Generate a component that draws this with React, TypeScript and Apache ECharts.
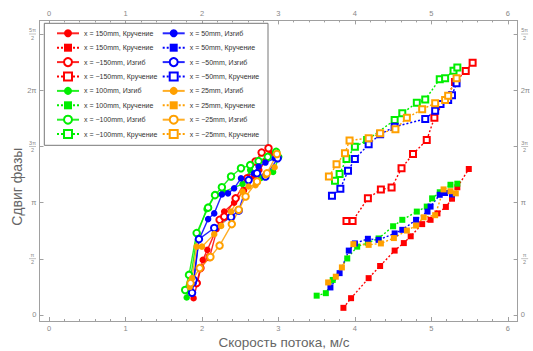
import React, { useEffect, useRef } from 'react';
import * as echarts from 'echarts';

const PI = Math.PI;

// Axis ticks
const xTickValues = [0, 1, 2, 3, 4, 5, 6];
const xMinorTickValues = [
  0.2, 0.4, 0.6, 0.8, 1.2, 1.4, 1.6, 1.8, 2.2, 2.4, 2.6, 2.8, 3.2, 3.4, 3.6, 3.8,
  4.2, 4.4, 4.6, 4.8, 5.2, 5.4, 5.6, 5.8,
];
const yTickValues = [0, PI / 2, PI, (3 * PI) / 2, 2 * PI, (5 * PI) / 2];
const yTickLabels = ['0', 'π/2', 'π', '3π/2', '2π', '5π/2'];

// Series (x: flow velocity m/s, y: phase shift rad)
const bend150 = [[1.89, 0.47], [1.94, 0.9], [2.01, 1.54], [2.07, 1.82], [2.19, 2.4], [2.29, 2.89], [2.42, 3.14], [2.55, 3.49], [2.68, 3.87], [2.75, 4.05], [2.83, 4.31], [2.9, 4.52]];
const tors150 = [[3.85, 0.2], [3.95, 0.47], [4.18, 1.03], [4.33, 1.37], [4.52, 1.8], [4.64, 2.01], [4.73, 2.2], [4.88, 2.54], [4.99, 2.66], [5.08, 2.84], [5.19, 3.02], [5.27, 3.25], [5.34, 3.57], [5.49, 4.08]];
const bendM150 = [[1.93, 0.89], [1.98, 1.31], [2.1, 1.62], [2.23, 2.66], [2.29, 2.75], [2.44, 3.26], [2.59, 3.82], [2.7, 4.29], [2.78, 4.54], [2.87, 4.66]];
const torsM150 = [[3.89, 2.63], [3.97, 2.63], [4.17, 3.26], [4.34, 3.51], [4.48, 3.56], [4.61, 4.1], [4.76, 4.5], [4.94, 4.89], [5.04, 5.51], [5.31, 6.51], [5.45, 6.82], [5.54, 7.05]];
const bend100 = [[1.8, 0.49], [1.84, 0.89], [1.94, 2.26], [2.06, 2.96], [2.17, 3.37], [2.28, 3.44], [2.53, 3.66], [2.63, 4.05], [2.77, 3.83], [2.93, 4.0], [3.01, 4.42]];
const tors100 = [[3.5, 0.54], [3.62, 0.61], [3.71, 0.98], [3.9, 1.58], [4.03, 1.91], [4.17, 2.02], [4.31, 2.14], [4.5, 2.48], [4.62, 2.66], [4.81, 2.89], [4.94, 3.03], [5.01, 3.26], [5.11, 3.43], [5.25, 3.64], [5.34, 3.67]];
const bendM100 = [[1.78, 0.7], [1.83, 1.12], [1.93, 2.29], [2.08, 3.0], [2.17, 3.35], [2.26, 3.57], [2.38, 3.87], [2.51, 4.1], [2.63, 4.19], [2.74, 4.3], [2.86, 4.42], [2.97, 4.56]];
const torsM100 = [[3.74, 3.75], [3.8, 3.94], [3.89, 4.36], [4.0, 4.7], [4.16, 4.89], [4.52, 5.45], [4.62, 5.64], [4.81, 5.93], [4.92, 6.02], [5.11, 6.59], [5.18, 6.62], [5.29, 6.83], [5.34, 6.92]];
const bend50 = [[1.87, 0.61], [1.89, 0.89], [1.96, 2.1], [2.08, 2.68], [2.16, 2.84], [2.26, 3.37], [2.34, 3.4], [2.42, 3.54], [2.51, 3.82], [2.68, 3.96], [2.74, 4.15], [2.83, 4.26], [2.95, 4.38]];
const tors50 = [[3.68, 0.77], [3.8, 1.17], [3.92, 1.8], [4.0, 2.0], [4.17, 2.13], [4.31, 2.1], [4.52, 2.28], [4.62, 2.38], [4.8, 2.66], [4.95, 2.89], [4.99, 3.03], [5.11, 3.36], [5.18, 3.41], [5.27, 3.37]];
const bendM50 = [[1.87, 0.62], [1.89, 0.98], [1.96, 2.12], [2.16, 2.43], [2.38, 2.74], [2.48, 2.92], [2.61, 3.77], [2.72, 3.96], [2.83, 3.87], [2.99, 4.38]];
const torsM50 = [[3.7, 3.33], [3.81, 3.53], [3.91, 4.03], [4.0, 4.36], [4.18, 4.77], [4.33, 5.05], [4.52, 5.26], [4.92, 5.48], [5.05, 5.71], [5.12, 5.9], [5.22, 6.01], [5.27, 6.14], [5.33, 6.48]];
const bend25 = [[1.84, 0.78], [1.87, 1.03], [1.93, 1.91], [2.0, 1.91], [2.16, 2.26], [2.25, 2.49], [2.38, 2.89], [2.53, 3.45], [2.61, 3.59], [2.7, 3.63], [2.83, 3.91], [2.95, 4.13]];
const tors25 = [[3.65, 0.91], [3.75, 1.07], [3.83, 1.33], [3.98, 1.98], [4.18, 1.96], [4.34, 2.0], [4.51, 2.15], [4.68, 2.36], [4.8, 2.5], [4.9, 2.73], [5.05, 2.79], [5.16, 3.51], [5.25, 3.46], [5.32, 3.4]];
const bendM25 = [[1.85, 0.89], [1.97, 1.31], [2.11, 1.62], [2.23, 1.94], [2.39, 2.54], [2.48, 2.94], [2.57, 3.31], [2.72, 3.73], [2.85, 3.96], [2.98, 4.5]];
const torsM25 = [[3.66, 3.87], [3.76, 4.21], [3.87, 4.52], [3.93, 4.88], [4.18, 4.94], [4.33, 5.08], [4.53, 5.19], [4.68, 5.51], [4.88, 5.75], [5.05, 5.92], [5.18, 6.01], [5.22, 6.13], [5.33, 6.62]];

const names = {
  bend150: 'x = 150mm, Кручение',
  tors150: 'x = 150mm, Кручение ',
  bendM150: 'x = −150mm, Изгиб',
  torsM150: 'x = −150mm, Кручение',
  bend100: 'x = 100mm, Изгиб',
  tors100: 'x = 100mm, Кручение',
  bendM100: 'x = −100mm, Изгиб',
  torsM100: 'x = −100mm, Кручение',
  bend50: 'x = 50mm, Изгиб',
  tors50: 'x = 50mm, Кручение',
  bendM50: 'x = −50mm, Изгиб',
  torsM50: 'x = −50mm, Кручение',
  bend25: 'x = 25mm, Изгиб',
  tors25: 'x = 25mm, Кручение',
  bendM25: 'x = −25mm, Изгиб',
  torsM25: 'x = −25mm, Кручение',
};

const xTitle = 'Скорость потока, м/с';
const yTitle = 'Сдвиг фазы';

const RED = '#ff0000';
const GREEN = '#00ee00';
const BLUE = '#0000ff';
const ORANGE = '#ffa000';

const FONT = '"Liberation Sans", Arial, sans-serif';
const FRAME = '#a0a0a0';
const LABEL = '#888888';

function mk(name: string, data: number[][], color: string, symbol: string, dashed: boolean) {
  const empty = symbol.startsWith('empty');
  const isRect = symbol.toLowerCase().includes('rect');
  return {
    type: 'line',
    name,
    data,
    symbol,
    symbolSize: isRect ? 6 : 6.5,
    showSymbol: true,
    itemStyle: { color, borderColor: color, borderWidth: empty ? 1.2 : 0 },
    lineStyle: { color, width: dashed ? 1.4 : 1.4, type: dashed ? [2, 2] : 'solid', opacity: dashed ? 1 : 0.85 },
    emphasis: { disabled: true },
    silent: true,
  };
}

const seriesDefs = [
  mk(names.bend150, bend150, RED, 'circle', false),
  mk(names.tors150, tors150, RED, 'rect', true),
  mk(names.bendM150, bendM150, RED, 'emptyCircle', false),
  mk(names.torsM150, torsM150, RED, 'emptyRect', true),
  mk(names.bend100, bend100, GREEN, 'circle', false),
  mk(names.tors100, tors100, GREEN, 'rect', true),
  mk(names.bendM100, bendM100, GREEN, 'emptyCircle', false),
  mk(names.torsM100, torsM100, GREEN, 'emptyRect', true),
  mk(names.bend50, bend50, BLUE, 'circle', false),
  mk(names.tors50, tors50, BLUE, 'rect', true),
  mk(names.bendM50, bendM50, BLUE, 'emptyCircle', false),
  mk(names.torsM50, torsM50, BLUE, 'emptyRect', true),
  mk(names.bend25, bend25, ORANGE, 'circle', false),
  mk(names.tors25, tors25, ORANGE, 'rect', true),
  mk(names.bendM25, bendM25, ORANGE, 'emptyCircle', false),
  mk(names.torsM25, torsM25, ORANGE, 'emptyRect', true),
];

const col1 = [names.bend150, names.tors150, names.bendM150, names.torsM150, names.bend100, names.tors100, names.bendM100, names.torsM100];
const col2 = [names.bend50, names.tors50, names.bendM50, names.torsM50, names.bend25, names.tors25, names.bendM25, names.torsM25];

const X_MIN = -0.1255;
const X_MAX = 6.129;
const Y_MIN = -0.168;
const Y_MAX = 8.234;

function yFormatter(v: number) {
  const i = yTickValues.findIndex((t) => Math.abs(t - v) < 1e-6);
  const lab = i >= 0 ? yTickLabels[i] : '';
  if (lab.includes('/')) {
    const [n, d] = lab.split('/');
    return `{n|${n}}\n{bar|\u00a0}\n{d|${d}}`;
  }
  return `{m|${lab}}`;
}

const yRich = {
  n: { fontSize: 5.5, lineHeight: 5.5, width: 8, align: 'center', color: LABEL, fontFamily: FONT },
  bar: { width: 7, height: 0.6, lineHeight: 1.6, fontSize: 1, backgroundColor: '#9a9a9a', align: 'center' },
  d: { fontSize: 5.5, lineHeight: 5.5, width: 8, align: 'center', color: LABEL, fontFamily: FONT },
  m: { fontSize: 7.5, color: LABEL, fontFamily: FONT },
};

function xAxisMajor(position: 'bottom' | 'top') {
  return {
    type: 'value',
    position,
    min: X_MIN,
    max: X_MAX,
    axisLine: { show: true, onZero: false, lineStyle: { color: FRAME, width: 1 } },
    axisTick: { show: true, inside: true, length: 4, customValues: xTickValues, lineStyle: { color: FRAME } },
    axisLabel: { show: true, customValues: xTickValues, fontSize: 7.5, color: LABEL, fontFamily: FONT, margin: 3 },
    splitLine: { show: false },
  };
}
function xAxisMinor(position: 'bottom' | 'top') {
  return {
    type: 'value',
    position,
    min: X_MIN,
    max: X_MAX,
    axisLine: { show: false, onZero: false },
    axisTick: { show: true, inside: true, length: 2, customValues: xMinorTickValues, lineStyle: { color: FRAME } },
    axisLabel: { show: false },
    splitLine: { show: false },
  };
}
function yAxisMajor(position: 'left' | 'right') {
  return {
    type: 'value',
    position,
    min: Y_MIN,
    max: Y_MAX,
    axisLine: { show: true, onZero: false, lineStyle: { color: FRAME, width: 1 } },
    axisTick: { show: true, inside: true, length: 4, customValues: yTickValues, lineStyle: { color: FRAME } },
    axisLabel: { show: true, customValues: yTickValues, formatter: yFormatter, rich: yRich, margin: 3 },
    splitLine: { show: false },
  };
}

function legendCol(data: string[], left: number) {
  return {
    show: true,
    orient: 'vertical',
    left,
    top: 28.3,
    padding: 0,
    itemWidth: 22,
    itemHeight: 10,
    itemGap: 4.4,
    selectedMode: false,
    data,
    z: 6,
    textStyle: { fontSize: 7, color: '#333', fontFamily: FONT, lineHeight: 10 },
  };
}

export default function App() {
  const ref = useRef<HTMLDivElement>(null);
  useEffect(() => {
    if (!ref.current) return;
    const chart = echarts.init(ref.current, null, { renderer: 'svg' });
    chart.setOption({
      animation: false,
      backgroundColor: '#ffffff',
      grid: { left: 39.5, right: 5, top: 20.4, bottom: 30, containLabel: false },
      xAxis: [xAxisMajor('bottom'), xAxisMinor('bottom'), xAxisMajor('top'), xAxisMinor('top')],
      yAxis: [yAxisMajor('left'), yAxisMajor('right')],
      legend: [legendCol(col1, 56), legendCol(col2, 161.7)],
      graphic: [
        {
          type: 'rect',
          z: 3,
          shape: { x: 44.3, y: 23.3, width: 223.7, height: 122 },
          style: { fill: '#ffffff', stroke: '#777777', lineWidth: 1 },
          silent: true,
        },
        {
          type: 'text',
          x: 284,
          y: 342.5,
          style: { text: xTitle, fontSize: 13.5, fill: '#666666', fontFamily: FONT, align: 'center', verticalAlign: 'middle' },
          silent: true,
        },
        {
          type: 'text',
          x: 17.3,
          y: 186.7,
          rotation: Math.PI / 2,
          style: { text: yTitle, fontSize: 14, fill: '#666666', fontFamily: FONT, align: 'center', verticalAlign: 'middle' },
          silent: true,
        },
      ],
      series: seriesDefs,
    });
    return () => chart.dispose();
  }, []);
  return <div ref={ref} style={{ position: 'absolute', left: 0, top: 0, width: 533, height: 351 }} />;
}
